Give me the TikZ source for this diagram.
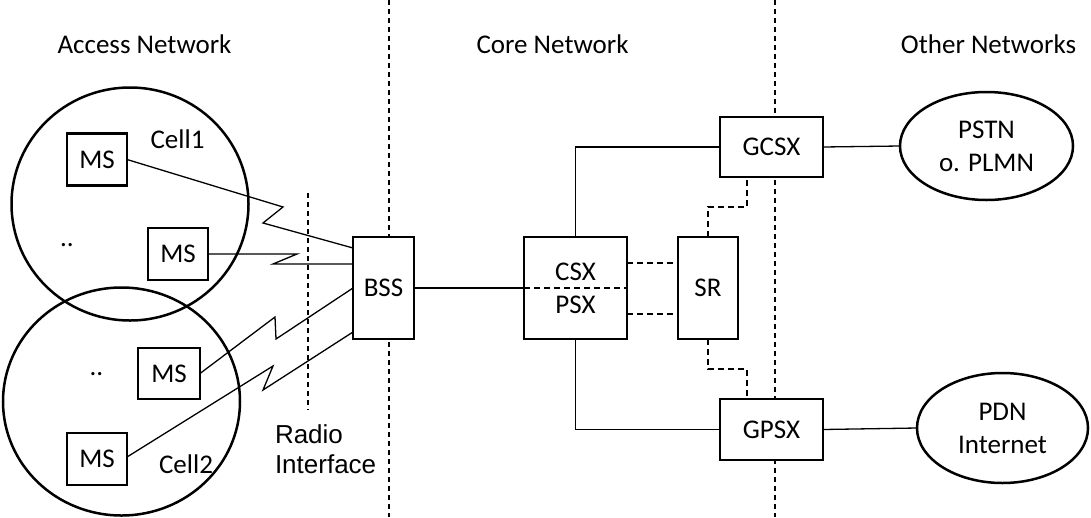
\documentclass[tikz,border=0pt]{standalone}
\usepackage{fontspec}
\setmainfont{Carlito}
\newfontfamily\arialfont{Liberation Sans}
\usetikzlibrary{shapes.geometric,calc}
\begin{document}
\begin{tikzpicture}[x=1pt,y=-1pt,
  every node/.style={font=\fontsize{27}{33}\selectfont, inner sep=0pt, outer sep=0pt},
  box/.style={draw, line width=2.8pt, fill=white},
  cell/.style={draw, ellipse, line width=2.5pt},
  ell/.style={draw, ellipse, line width=2.5pt, fill=white, align=center},
  link/.style={line width=1.3pt},
  dlink/.style={line width=1.5pt, dash pattern=on 6pt off 4pt},
  sep/.style={line width=1.4pt, dash pattern=on 5pt off 4pt}]
\useasboundingbox (0,0) rectangle (1091,517);

% domain separators and the radio interface
\coordinate (sepA top) at (389,0);   \coordinate (sepA bot) at (389,517);
\coordinate (sepB top) at (775,0);   \coordinate (sepB bot) at (775,517);
\coordinate (radio top) at (308,193); \coordinate (radio bot) at (308,410);
\draw[sep] (sepA top) -- (sepA bot);
\draw[sep] (sepB top) -- (sepB bot);
\draw[sep] (radio top) -- (radio bot);

% headings
\node[anchor=base] (hAccess) at (144.5,53) {Access Network};
\node[anchor=base] (hCore)   at (552.5,53) {Core Network};
\node[anchor=base] (hOther)  at (988.5,53) {Other Networks};

% radio cells
\node[cell, minimum width=237pt, minimum height=233pt] (cell1) at (130,204) {};
\node[cell, minimum width=237pt, minimum height=228pt] (cell2) at (121.5,401.5) {};
\node[anchor=base] (lCell1) at (177.5,148) {Cell1};
\node[anchor=base] (lCell2) at (186,473) {Cell2};
\node[anchor=base] (dots1) at (67,246) {..};
\node[anchor=base] (dots2) at (96.5,375) {..};

% radio interface label
\node[anchor=base west, font=\arialfont\fontsize{26}{30}\selectfont] (radio1) at (275,443) {Radio};
\node[anchor=base west, font=\arialfont\fontsize{26}{30}\selectfont] (radio2) at (275,473) {Interface};

% mobile stations
\node[box, minimum width=60pt, minimum height=52pt] (ms1) at (97,159.5) {MS};
\node[box, minimum width=60pt, minimum height=52pt] (ms2) at (178,254) {MS};
\node[box, minimum width=62pt, minimum height=51pt] (ms3) at (169,373.5) {MS};
\node[box, minimum width=60pt, minimum height=52pt] (ms4) at (97,459) {MS};

% network elements
\node[box, minimum width=61pt, minimum height=102pt] (bss) at (383.5,288) {BSS};
\node[box, minimum width=103pt, minimum height=102pt] (csx) at (575.5,288) {};
\node[anchor=base] (csxlbl) at (575.5,280) {CSX};
\node[anchor=base] (psxlbl) at (575.5,313) {PSX};
\node[box, minimum width=60pt, minimum height=102pt] (sr) at (708,288) {SR};
\node[box, minimum width=103pt, minimum height=60pt] (gcsx) at (771.5,147) {GCSX};
\node[box, minimum width=103pt, minimum height=61pt] (gpsx) at (771.5,429.5) {GPSX};

% external networks
\node[ell, minimum width=173pt, minimum height=108pt] (pstn) at (986.5,146) {PSTN\\o. PLMN};
\node[ell, minimum width=171pt, minimum height=110pt] (pdn) at (1002.5,428) {PDN\\Internet};

% radio links
\draw[link] (ms1.east) -- (283,207) -- (263,223) -- ([yshift=40pt]bss.west);
\draw[link] (ms2.east) -- (297,254) -- (273,264) -- ([yshift=24pt]bss.west);
\draw[link] (ms3.east) -- (275,317) -- (276,339) -- (bss.west);
\draw[link] ([yshift=2pt]ms4.east) -- (273,366) -- (263,390) -- ([yshift=-44pt]bss.west);

% core connections
\draw[link] (bss.east) -- (csx.west);
\draw[link] (csx.north) |- (gcsx.west);
\draw[link] (csx.south) |- (gpsx.west);
\draw[dlink] (csx.west) -- (csx.east);
\draw[dlink] ([yshift=25pt]csx.east) -- ([yshift=25pt]sr.west);
\draw[dlink] ([yshift=-26pt]csx.east) -- ([yshift=-26pt]sr.west);
\draw[dlink] (sr.north) -- ++(0,-30) -| ([xshift=-24.5pt]gcsx.south);
\draw[dlink] (sr.south) -- ++(0,30) -| ([xshift=-24.5pt]gpsx.north);
\draw[link] (gcsx.east) -- (pstn.west);
\draw[link] (gpsx.east) -- (pdn.west);
\end{tikzpicture}
\end{document}
